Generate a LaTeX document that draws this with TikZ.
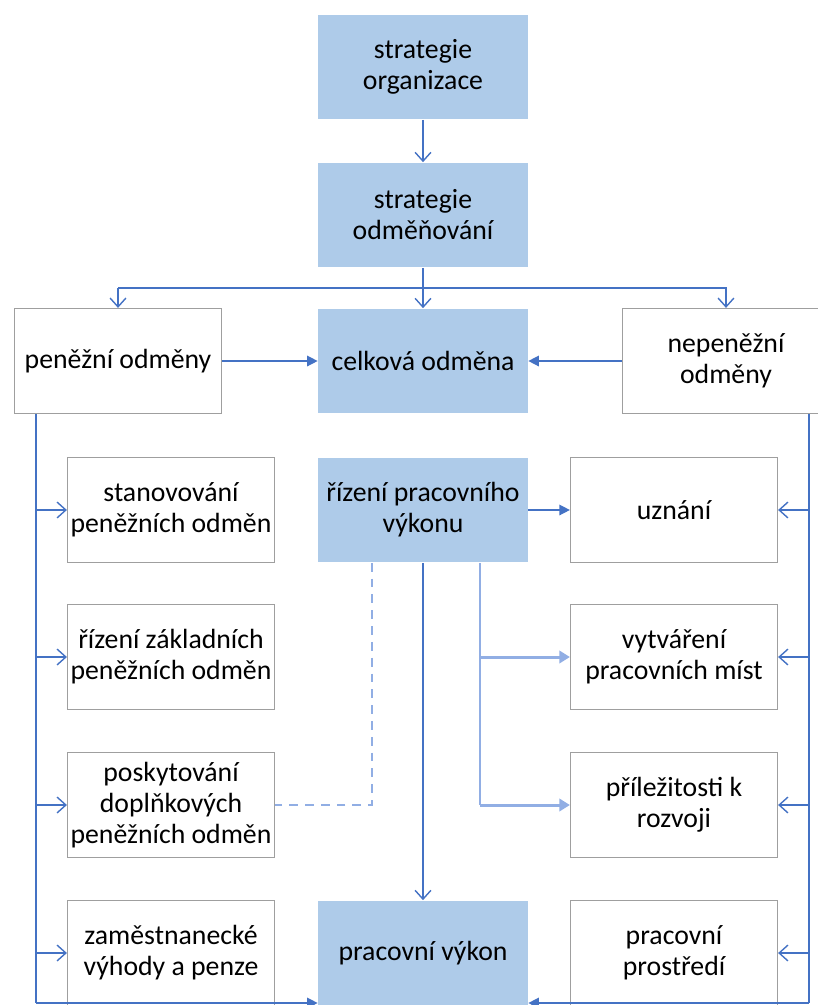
\documentclass[tikz,border=0pt]{standalone}
\usepackage{fontspec}
\setmainfont{Carlito}
\usetikzlibrary{positioning,arrows.meta}
\definecolor{boxblue}{RGB}{174,203,233}
\definecolor{lineblue}{RGB}{68,114,196}
\definecolor{paleblue}{RGB}{145,174,228}

\begin{document}
\begin{tikzpicture}[x=0.02cm,y=-0.02cm,
    keybox/.style={rectangle,fill=boxblue,inner xsep=1pt,minimum width=4.2cm,minimum height=2.1cm,align=center,font=\fontsize{15.8}{17.6}\selectfont},
    itembox/.style={rectangle,draw=gray!75,line width=0.7pt,fill=white,inner xsep=1pt,minimum width=4.14cm,minimum height=2.1cm,align=center,font=\fontsize{15.8}{17.6}\selectfont},
    link/.style={draw=lineblue,line width=0.8pt},
    openarr/.style={link,-{Straight Barb[length=5pt,width=9pt]}},
    fullarr/.style={link,-{Triangle[length=6pt,width=6pt]}},
    palearr/.style={draw=paleblue,line width=1.7pt,-{Triangle[length=6pt,width=7pt]}}]

\path[use as bounding box] (0,0) rectangle (818,1005);
\clip (0,0) rectangle (818,1005);

% Strategie
\node[keybox] (org) at (423,67) {strategie\\organizace};
\node[keybox] (strat) at (423,215) {strategie\\odměňování};

% Odmeny
\node[itembox] (pen) at (118,361) {peněžní odměny};
\node[keybox] (celk) at (423,361) {celková odměna};
\node[itembox] (nepen) at (726,361) {nepeněžní\\odměny};

% Leva strana
\node[itembox] (stan) at (171,510) {stanovování\\peněžních odměn};
\node[itembox] (zakl) at (171,657) {řízení základních\\peněžních odměn};
\node[itembox] (dopl) at (171,805) {poskytování\\doplňkových\\peněžních odměn};
\node[itembox] (vyh) at (171,953) {zaměstnanecké\\výhody a penze};

% Stred
\node[keybox] (rizeni) at (423,510) {řízení pracovního\\výkonu};
\node[keybox] (vykon) at (423,953) {pracovní výkon};

% Prava strana
\node[itembox] (uzn) at (674,510) {uznání};
\node[itembox] (mist) at (674,657) {vytváření\\pracovních míst};
\node[itembox] (rozv) at (674,805) {příležitosti k\\rozvoji};
\node[itembox] (prost) at (674,953) {pracovní\\prostředí};

% Pomocne body
\coordinate (split) at (0,288);
\coordinate (lbus) at (36,0);
\coordinate (rbus) at (809,0);
\coordinate (branch) at (480,0);
\coordinate (dash) at (372,0);
\coordinate (base) at (0,1003);

% Spoje shora
\draw[openarr] (org) -- (strat);
\draw[link] (strat.south) -- (strat.south |- split);
\draw[openarr] (strat.south |- split) -- (celk);
\draw[openarr] (pen.north |- split) -- (nepen.north |- split) -- (nepen.north);
\draw[openarr] (pen.north |- split) -- (pen.north);
\draw[fullarr] (pen) -- (celk);
\draw[fullarr] (nepen) -- (celk);

% Levy pruh
\draw[link] (pen.south -| lbus) -- (lbus |- base);
\foreach \n in {stan,zakl,dopl,vyh}
    \draw[openarr] (lbus |- \n.west) -- (\n.west);
\draw[fullarr] (lbus |- base) -- (vykon.west |- base);

% Pravy pruh
\draw[link] (nepen.south -| rbus) -- (rbus |- base);
\foreach \n in {uzn,mist,rozv,prost}
    \draw[openarr] (rbus |- \n.east) -- (\n.east);
\draw[fullarr] (rbus |- base) -- (vykon.east |- base);

% Rizeni vykonu
\draw[fullarr] (rizeni) -- (uzn);
\draw[openarr] (rizeni) -- (vykon);
\draw[draw=paleblue,line width=1.7pt] (rizeni.south -| branch) -- (branch |- rozv.west);
\draw[palearr] (branch |- mist.west) -- (mist.west);
\draw[palearr] (branch |- rozv.west) -- (rozv.west);
\draw[draw=paleblue,line width=1.2pt,dash pattern=on 5pt off 4pt] (rizeni.south -| dash) -- (dash |- dopl.east) -- (dopl.east);

\end{tikzpicture}
\end{document}
